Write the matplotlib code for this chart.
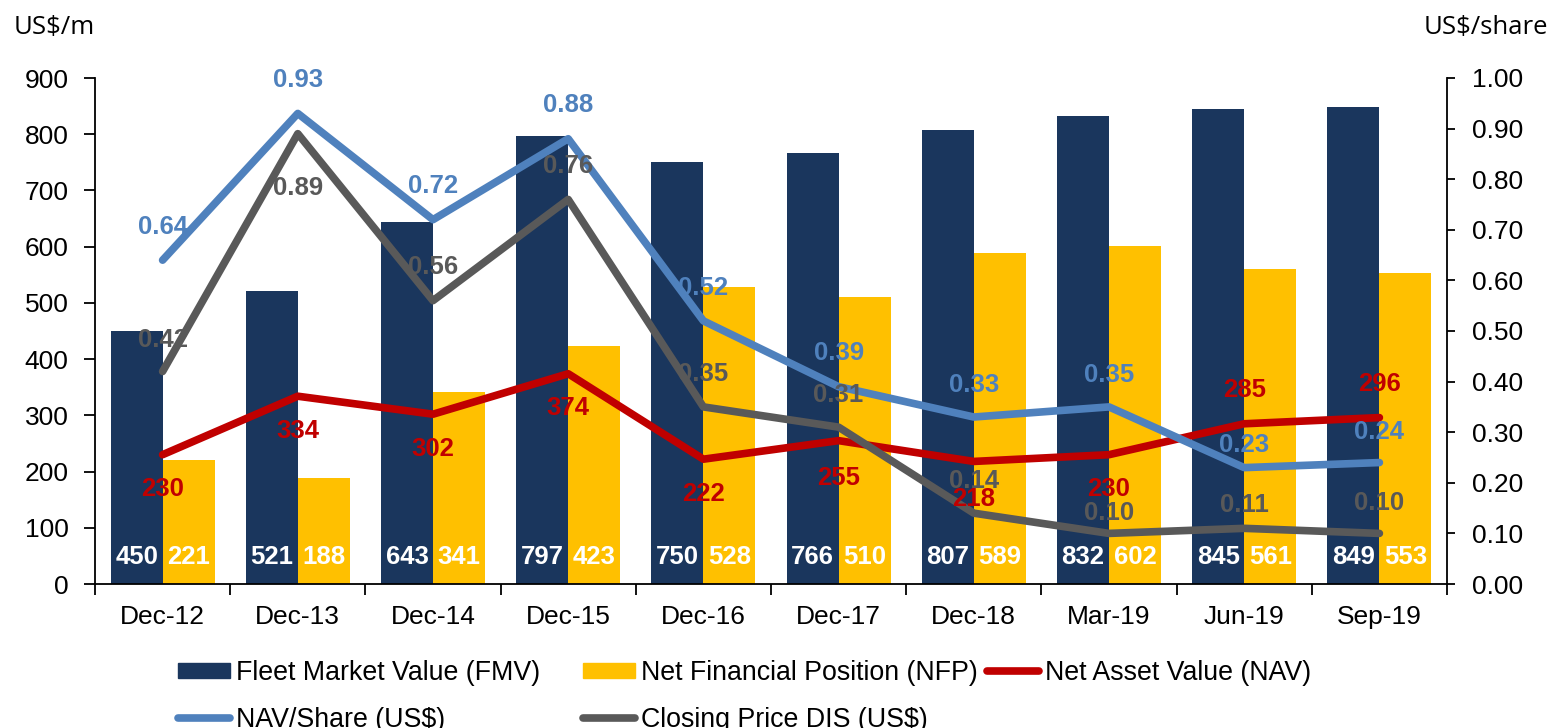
import matplotlib
matplotlib.use("Agg")
import matplotlib.pyplot as plt
import numpy as np
from matplotlib.lines import Line2D
from matplotlib.patches import Patch
from matplotlib.ticker import FormatStrFormatter

plt.rcParams['font.family'] = ['Liberation Sans', 'DejaVu Sans']

periods = ["Dec-12", "Dec-13", "Dec-14", "Dec-15", "Dec-16",
           "Dec-17", "Dec-18", "Mar-19", "Jun-19", "Sep-19"]
fmv = [450, 521, 643, 797, 750, 766, 807, 832, 845, 849]
nfp = [221, 188, 341, 423, 528, 510, 589, 602, 561, 553]
nav = [230, 334, 302, 374, 222, 255, 218, 230, 285, 296]
nav_per_share = [0.64, 0.93, 0.72, 0.88, 0.52, 0.39, 0.33, 0.35, 0.23, 0.24]
closing_price = [0.42, 0.89, 0.56, 0.76, 0.35, 0.31, 0.14, 0.10, 0.11, 0.10]

# label offsets in points (positive = above the point, negative = below)
nav_label_dy = [-25, -25, -25, -25, -25, -27, -27, -25, 24, 24]
nps_label_dy = [24, 24, 24, 24, 24, 24, 23, 23, 16, 22]
cp_label_dy = [23, -39, 24, 24, 24, 23, 23, 15, 17, 22]

NAVY = "#1a365d"
GOLD = "#ffc000"
RED = "#c00000"
BLUE = "#4f81bd"
GREY = "#595959"

FS = 19          # axis tick labels
FS_LABEL = 18.5  # value labels
FS_LEG = 19.3    # legend
LW = 5.5

fig = plt.figure(figsize=(15.49, 7.28), dpi=100)
ax = fig.add_axes([95 / 1549, 144 / 728, 1352 / 1549, 506 / 728])

x = np.arange(len(periods))
w = 0.385
ax.bar(x - w / 2, fmv, w, color=NAVY, zorder=2)
ax.bar(x + w / 2, nfp, w, color=GOLD, zorder=2)
ax.plot(x, nav, color=RED, lw=LW, solid_capstyle='round',
        solid_joinstyle='round', zorder=3)

ax.set_xlim(-0.5, len(periods) - 0.5)
ax.set_ylim(0, 900)
ax.set_yticks(np.arange(0, 901, 100))
ax.set_xticks(np.arange(-0.5, len(periods), 1))
ax.set_xticks(x, minor=True)
ax.set_xticklabels(periods, minor=True)
ax.tick_params(axis='x', which='major', length=8, width=1.3,
               direction='out', labelbottom=False)
ax.tick_params(axis='x', which='minor', length=0, pad=15, labelsize=FS)
ax.tick_params(axis='y', length=8, width=1.3, pad=11, labelsize=FS)
for side in ('top', 'right'):
    ax.spines[side].set_visible(False)
for side in ('left', 'bottom'):
    ax.spines[side].set_linewidth(1.3)

ax2 = ax.twinx()
ax2.plot(x, nav_per_share, color=BLUE, lw=LW, solid_capstyle='round',
         solid_joinstyle='round', zorder=3)
ax2.plot(x, closing_price, color=GREY, lw=LW, solid_capstyle='round',
         solid_joinstyle='round', zorder=3)
ax2.set_ylim(0, 1.0)
ax2.set_yticks(np.arange(0, 1.001, 0.1))
ax2.yaxis.set_major_formatter(FormatStrFormatter('%.2f'))
ax2.tick_params(axis='y', length=6, width=1.3, pad=12, labelsize=FS)
for side in ('top', 'left', 'bottom'):
    ax2.spines[side].set_visible(False)
ax2.spines['right'].set_linewidth(1.3)

label_kw = dict(textcoords='offset points', ha='center', va='center',
                fontsize=FS_LABEL, fontweight='bold', zorder=6)

# bar values inside the bottom of each bar
for i in range(len(periods)):
    ax2.annotate(str(fmv[i]), (x[i] - w / 2, 48), xycoords=ax.transData,
                 xytext=(0, 0), color='white', **label_kw)
    ax2.annotate(str(nfp[i]), (x[i] + w / 2, 48), xycoords=ax.transData,
                 xytext=(0, 0), color='white', **label_kw)

# line value labels
for i in range(len(periods)):
    ax2.annotate(str(nav[i]), (x[i], nav[i]), xycoords=ax.transData,
                 xytext=(0, nav_label_dy[i]), color=RED, **label_kw)
    ax2.annotate(f"{nav_per_share[i]:.2f}", (x[i], nav_per_share[i]),
                 xytext=(0, nps_label_dy[i]), color=BLUE, **label_kw)
    ax2.annotate(f"{closing_price[i]:.2f}", (x[i], closing_price[i]),
                 xytext=(0, cp_label_dy[i]), color=GREY, **label_kw)

fig.text(14 / 1549, 1 - 28 / 728, "US$/m", fontsize=18.5, family='Open Sans',
         ha='left', va='center')
fig.text(1548 / 1549, 1 - 28 / 728, "US$/share", fontsize=18.5,
         family='Open Sans', ha='right', va='center')

h_fmv = Patch(color=NAVY)
h_nfp = Patch(color=GOLD)
h_nav = Line2D([], [], color=RED, lw=LW, solid_capstyle='round')
h_nps = Line2D([], [], color=BLUE, lw=LW, solid_capstyle='round')
h_cp = Line2D([], [], color=GREY, lw=LW, solid_capstyle='round')

leg_kw = dict(loc='upper left', frameon=False, fontsize=FS_LEG,
              handlelength=1.95, handleheight=0.52, handletextpad=0.22,
              columnspacing=1.6, labelspacing=0.77, borderpad=0,
              borderaxespad=0)
fig.legend([h_fmv, h_nps, h_nfp, h_cp],
           ["Fleet Market Value (FMV)", "NAV/Share (US$)",
            "Net Financial Position (NFP)", "Closing Price DIS (US$)"],
           ncol=2, bbox_to_anchor=(178 / 1549, 1 - 660 / 728), **leg_kw)
fig.legend([h_nav], ["Net Asset Value (NAV)"],
           bbox_to_anchor=(987 / 1549, 1 - 660 / 728), **leg_kw)

fig.savefig("out.png", dpi=100)
